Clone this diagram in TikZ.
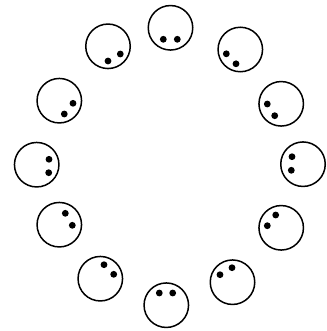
\documentclass[tikz,border=0pt]{standalone}
\begin{document}
\begin{tikzpicture}[x=1pt,y=-1pt,
  ring/.style={circle,draw=black,line width=1.5pt,minimum size=44.5pt,inner sep=0pt},
  pip/.style={circle,fill=black,minimum size=6.8pt,inner sep=0pt}]
\useasboundingbox (0,0) rectangle (326,331);
\foreach \i/\cx/\cy/\ax/\ay/\bx/\by in {
  1/170.5/27.8/-7.2/11.5/6.8/11.5,
  2/240.3/49.5/-14/4.3/-4.3/14.3,
  3/281.2/103.8/-13.9/0.2/-6.5/11.9,
  4/303/164.2/-11/-7.5/-11.7/6.1,
  5/281.2/227.8/-5.5/-12.8/-13.9/-2.1,
  6/232.5/282.2/-12.5/-7.5/-0.5/-14.5,
  7/166.3/305.2/-7/-12.2/6.4/-12.2,
  8/100.3/278.7/3.7/-14/13.4/-4.4,
  9/59.3/224.7/6/-11.4/13/0.6,
  10/36.7/164.7/12.3/-5.4/12/8,
  11/59.3/100.7/13.7/2.6/5/13.3,
  12/108/46.3/0/14.7/12.3/7.7}{
  \node[ring] (c\i) at (\cx,\cy) {};
  \node[pip] (p\i a) at ([shift={(\ax,\ay)}]c\i.center) {};
  \node[pip] (p\i b) at ([shift={(\bx,\by)}]c\i.center) {};
}
\end{tikzpicture}
\end{document}
